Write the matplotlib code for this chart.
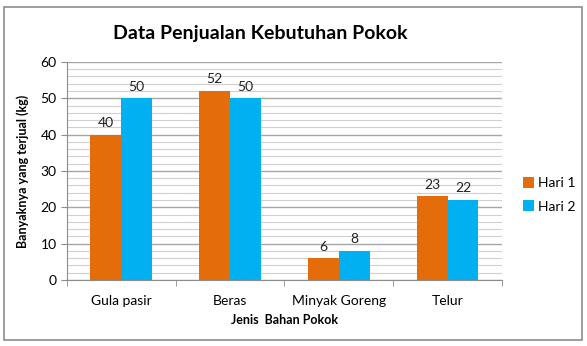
import matplotlib.pyplot as plt
from matplotlib.patches import Rectangle
import numpy as np

categories = ["Gula pasir", "Beras", "Minyak Goreng", "Telur"]
hari1 = [40, 52, 6, 23]
hari2 = [50, 50, 8, 22]
series_names = ["Hari 1", "Hari 2"]

plt.rcParams['font.family'] = ['Lato', 'DejaVu Sans']

fig = plt.figure(figsize=(5.87, 3.46), dpi=100)
fig.patches.append(Rectangle((4 / 587, 1 - 340 / 346), 578 / 587, 333 / 346,
                             transform=fig.transFigure, fill=False,
                             edgecolor='#8c8c8c', linewidth=1.2))
ax = fig.add_axes([0.114, 0.191, 0.741, 0.630])

x = np.arange(len(categories))
w = 0.284
b1 = ax.bar(x - w / 2, hari1, w, color='#E46C0A', label=series_names[0], zorder=3)
b2 = ax.bar(x + w / 2, hari2, w, color='#00B0F0', label=series_names[1], zorder=3)
for bars in (b1, b2):
    for r in bars:
        ax.annotate(str(int(r.get_height())), (r.get_x() + r.get_width() / 2, r.get_height()),
                    xytext=(0, 4), textcoords='offset points', ha='center', va='bottom',
                    fontsize=10, color='#222222')

ax.set_xlim(-0.5, 3.5)
ax.set_ylim(0, 60)
ax.set_yticks(range(0, 61, 10))
ax.set_yticks(range(0, 61, 2), minor=True)
ax.grid(axis='y', which='major', color='#a6a6a6', linewidth=1.0, zorder=0)
ax.grid(axis='y', which='minor', color='#d0d0d0', linewidth=0.8, zorder=0)
ax.set_xticks(x)
ax.set_xticklabels(categories, fontsize=10)
ax.set_xticks(np.arange(-0.5, 4, 1), minor=True)
ax.tick_params(axis='x', which='major', length=0, pad=11)
ax.tick_params(axis='x', which='minor', length=4, color='#8c8c8c')
ax.tick_params(axis='y', which='major', length=4, color='#8c8c8c', labelsize=10)
ax.tick_params(axis='y', which='minor', length=0)
for s in ['top', 'right']:
    ax.spines[s].set_visible(False)
for s in ['left', 'bottom']:
    ax.spines[s].set_color('#8c8c8c')

ax.set_xlabel("Jenis  Bahan Pokok", fontsize=9, fontweight='bold', labelpad=5)
ax.set_ylabel("Banyaknya yang terjual (kg)", fontsize=9, fontweight='bold', labelpad=8)
fig.text(260 / 587, 1 - 33 / 346, "Data Penjualan Kebutuhan Pokok", ha='center', va='center',
         fontsize=14, fontweight='bold')

ax.legend(loc='center left', bbox_to_anchor=(1.02, 0.39), frameon=False, fontsize=10,
          handlelength=0.8, handleheight=0.8, handletextpad=0.3, labelspacing=0.8)

fig.savefig("out.png", dpi=100)
